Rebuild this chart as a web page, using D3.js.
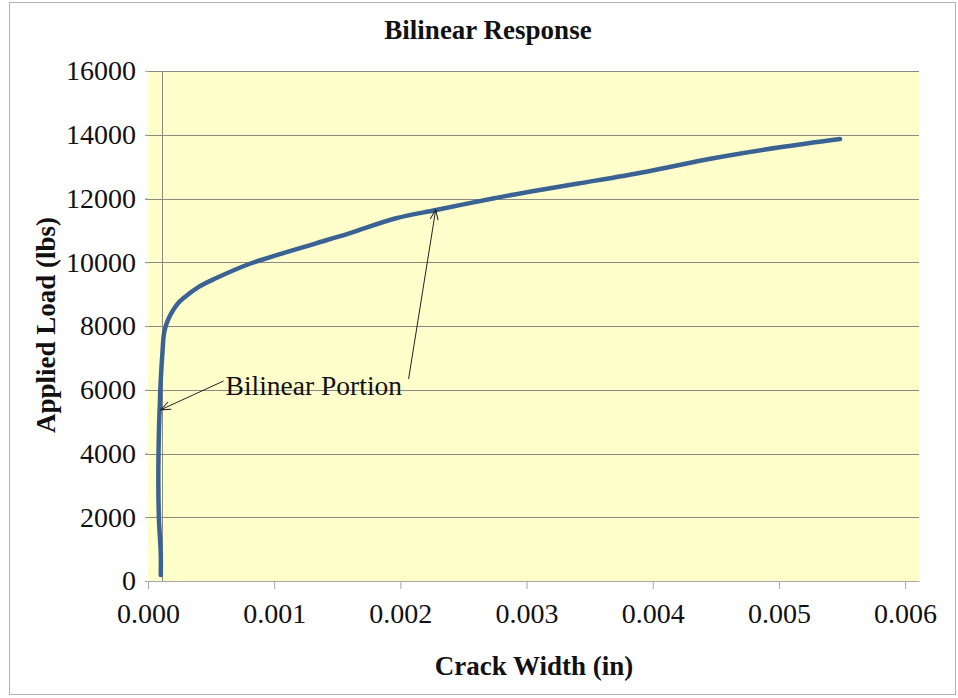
<!DOCTYPE html>
<html>
<head>
<meta charset="utf-8">
<script src="https://cdn.jsdelivr.net/npm/d3@7"></script>
<style>
  html, body { margin: 0; padding: 0; background: #fff; }
</style>
</head>
<body>
<svg id="chart" width="958" height="698"></svg>
<script>
// Measured crack width (in) and applied load (lbs)
const crackWidth = [0.000101, 0.000101, 0.000087, 0.000082, 0.000087, 0.000093, 0.000101,
  0.000114, 0.000127, 0.000145, 0.000170, 0.000200, 0.000235, 0.000280, 0.000405, 0.000537,
  0.000802, 0.001066, 0.001331, 0.001595, 0.001966, 0.002283, 0.002733, 0.003024,
  0.003421, 0.003950, 0.004479, 0.005008, 0.005484];
const appliedLoad = [188, 868, 1914, 3169, 4737, 5469, 6306,
  7143, 7771, 8050, 8292, 8502, 8700, 8869, 9233, 9496,
  9945, 10280, 10594, 10908, 11379, 11639, 12000, 12214,
  12477, 12841, 13261, 13606, 13867];

const xTicks = [0, 0.001, 0.002, 0.003, 0.004, 0.005, 0.006];
const yTicks = [0, 2000, 4000, 6000, 8000, 10000, 12000, 14000, 16000];

const titleText = "Bilinear Response";
const xTitle = "Crack Width (in)";
const yTitle = "Applied Load (lbs)";
const noteText = "Bilinear Portion";
// annotation: label anchor and the two arrow targets on the curve
const noteAnchor = [0.000615, 6150];
const arrowTargets = [[0.0001, 5370], [0.00228, 11650]];

const FONT = "'Liberation Serif'";
const svg = d3.select("#chart");
const plotLeft = 148, plotRight = 919, plotTop = 71, plotBottom = 581;

const x = d3.scaleLinear().domain([0, 0.00611]).range([plotLeft, plotRight]);
const y = d3.scaleLinear().domain([0, 16000]).range([plotBottom, plotTop]);

// outer chart border
svg.append("rect").attr("x", 9.5).attr("y", 2.5).attr("width", 946).attr("height", 692)
  .attr("fill", "#fff").attr("stroke", "#b4b4b4").attr("stroke-width", 1);

// plot area
svg.append("rect").attr("x", plotLeft).attr("y", plotTop)
  .attr("width", plotRight - plotLeft).attr("height", plotBottom - plotTop)
  .attr("fill", "#ffffcc");

// horizontal gridlines
svg.append("g").selectAll("line").data(yTicks.filter(d => d > 0)).join("line")
  .attr("x1", plotLeft - 3).attr("x2", plotRight)
  .attr("y1", d => Math.round(y(d)) + 0.5).attr("y2", d => Math.round(y(d)) + 0.5)
  .attr("stroke", "#8a8a80").attr("stroke-width", 1);

// vertical axis line where the value axis crosses
svg.append("line")
  .attr("x1", Math.round(x(0.00011)) + 0.5).attr("x2", Math.round(x(0.00011)) + 0.5)
  .attr("y1", plotTop).attr("y2", plotBottom)
  .attr("stroke", "#8a8a80").attr("stroke-width", 1);

// x axis
const xAxis = d3.axisBottom(x).tickValues(xTicks).tickFormat(d3.format(".3f"))
  .tickSizeInner(8).tickSizeOuter(0).tickPadding(14);
const gx = svg.append("g").attr("transform", `translate(0,${plotBottom})`).call(xAxis);
gx.attr("font-family", null).attr("font-size", null);
gx.select(".domain").attr("stroke", "#a8a8a8");
gx.selectAll(".tick line").attr("stroke", "#a8a8a8");
gx.selectAll("text").style("font-family", FONT).style("font-size", "28px").attr("fill", "#111");

// y axis
const yAxis = d3.axisLeft(y).tickValues(yTicks).tickFormat(d3.format("d"))
  .tickSizeInner(3).tickSizeOuter(0).tickPadding(9);
const gy = svg.append("g").attr("transform", `translate(${plotLeft},0)`).call(yAxis);
gy.attr("font-family", null).attr("font-size", null);
gy.select(".domain").remove();
gy.selectAll(".tick line").attr("stroke", "#a8a8a8");
gy.selectAll("text").style("font-family", FONT).style("font-size", "28px").attr("fill", "#111");

// data line
const pts = crackWidth.map((c, i) => [c, appliedLoad[i]]);
svg.append("path").datum(pts)
  .attr("d", d3.line().x(d => x(d[0])).y(d => y(d[1])).curve(d3.curveCatmullRom))
  .attr("fill", "none").attr("stroke", "#3a6394").attr("stroke-width", 4.5)
  .attr("stroke-linecap", "round").attr("stroke-linejoin", "round");

// annotation arrows
const defs = svg.append("defs");
defs.append("marker").attr("id", "openArrow").attr("viewBox", "0 0 12 12")
  .attr("refX", 11).attr("refY", 6).attr("markerWidth", 12).attr("markerHeight", 12)
  .attr("markerUnits", "userSpaceOnUse").attr("orient", "auto")
  .append("path").attr("d", "M1,2 L11,6 L1,10").attr("fill", "none")
  .attr("stroke", "#222").attr("stroke-width", 1);

const ax = x(noteAnchor[0]), ay = y(noteAnchor[1]);
const starts = [[ax - 2, ay - 4], [ax + 183, ay - 6]];
svg.append("g").selectAll("line").data(arrowTargets).join("line")
  .attr("x1", (d, i) => starts[i][0]).attr("y1", (d, i) => starts[i][1])
  .attr("x2", d => x(d[0])).attr("y2", d => y(d[1]))
  .attr("stroke", "#222").attr("stroke-width", 1)
  .attr("marker-end", "url(#openArrow)");

svg.append("text").attr("x", ax).attr("y", ay + 10)
  .style("font-family", FONT).style("font-size", "27.5px").attr("fill", "#111").text(noteText);

// titles
svg.append("text").attr("x", 488).attr("y", 39).attr("text-anchor", "middle")
  .style("font-family", FONT).style("font-size", "27px").style("font-weight", "bold")
  .attr("fill", "#111").text(titleText);

svg.append("text").attr("x", 534).attr("y", 675).attr("text-anchor", "middle")
  .style("font-family", FONT).style("font-size", "27px").style("font-weight", "bold")
  .attr("fill", "#111").text(xTitle);

svg.append("text").attr("transform", "translate(55,325) rotate(-90)").attr("text-anchor", "middle")
  .style("font-family", FONT).style("font-size", "27px").style("font-weight", "bold")
  .attr("fill", "#111").text(yTitle);
</script>
</body>
</html>
